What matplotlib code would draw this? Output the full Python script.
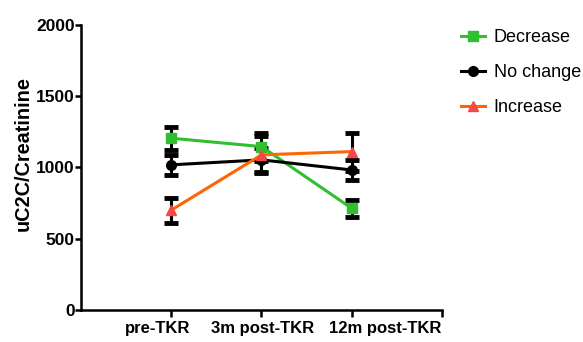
import numpy as np
from matplotlib import pyplot as plt
from matplotlib import transforms

plt.rcParams.update({
    "font.family": ['Liberation Sans', 'DejaVu Sans'],
    "axes.linewidth": 1.8,
    "xtick.major.width": 1.8,
    "ytick.major.width": 1.8,
    "xtick.major.size": 5,
    "ytick.major.size": 4,
})

timepoints = ["pre-TKR", "3m post-TKR", "12m post-TKR"]
# label centres sit off the ticks in the original, kept as offsets (in category units)
label_pos = [-0.15, 1.01, 2.37]

decrease = [1205, 1146, 713]
decrease_err = [81, 99, 61]
no_change = [1018, 1053, 982]
no_change_err = [72, 86, 68]
increase = [700, 1088, 1111]
increase_err = [88, 129, 134]

x = np.arange(len(timepoints))

fig = plt.figure(figsize=(5.83, 3.42), dpi=100)
ax = fig.add_axes([0.139, 0.094, 0.619, 0.833])

series = [
    ("Decrease", decrease, decrease_err, '#2fbf2f', '#2fbf2f', 's'),
    ("No change", no_change, no_change_err, 'black', 'black', 'o'),
    ("Increase", increase, increase_err, '#ff6600', '#f54848', '^'),
]

handles = []
for label, vals, errs, lc, mc, mk in series:
    ax.errorbar(x, vals, yerr=errs, fmt='none', ecolor='black',
                elinewidth=2.2, capsize=5, capthick=3.5, zorder=2)
for label, vals, errs, lc, mc, mk in series:
    h, = ax.plot(x, vals, color=lc, lw=2.2, marker=mk, markersize=7,
                 markerfacecolor=mc, markeredgecolor=mc, label=label, zorder=3)
    handles.append(h)

ax.set_xlim(-1, 3)
ax.set_ylim(0, 2000)
ax.set_xticks([0, 1, 2, 3])
ax.set_xticklabels([])
ax.set_yticks([0, 500, 1000, 1500, 2000])
ax.spines['top'].set_visible(False)
ax.spines['right'].set_visible(False)
ax.tick_params(axis='y', labelsize=12.5, pad=0.5)
for t in ax.get_yticklabels():
    t.set_fontweight('bold')

trans = transforms.blended_transform_factory(ax.transData, fig.transFigure)
for pos, name in zip(label_pos, timepoints):
    ax.text(pos, 1 - 328 / 342, name, transform=trans, ha='center', va='center',
            fontsize=12, fontweight='bold')

ax.set_ylabel("uC2C/Creatinine", fontsize=14.3, fontweight='bold')
ax.yaxis.set_label_coords(-0.135, 0.547)

fig.legend(handles=handles, loc='upper left', bbox_to_anchor=(0.782, 0.93),
           frameon=False, fontsize=13, handlelength=1.3, handletextpad=0.5,
           labelspacing=1.0, borderaxespad=0, borderpad=0.3)

fig.savefig('out.png', dpi=100)
